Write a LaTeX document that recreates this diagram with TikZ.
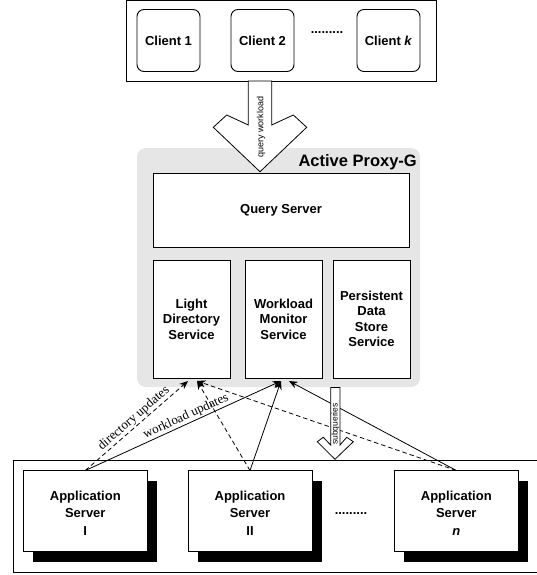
\documentclass[tikz,border=0pt]{standalone}
\usepackage{fontspec}
\setmainfont{Liberation Sans}
\newfontfamily\arialf{Liberation Sans}
\newfontfamily\seriff{Liberation Serif}
\usetikzlibrary{arrows.meta,shadows,calc}
\definecolor{proxygray}{RGB}{230,230,230}
\tikzset{
  sbox/.style={draw, fill=white, inner sep=0pt, outer sep=0pt, line width=0.9pt,
    font=\arialf\bfseries\fontsize{13}{16}\selectfont, align=center},
  clientbox/.style={sbox, rounded corners=7pt, minimum width=63pt, minimum height=62pt},
  appbox/.style={sbox, minimum width=124pt, minimum height=81pt,
    font=\arialf\bfseries\fontsize{13}{17.5}\selectfont,
    drop shadow={shadow xshift=10pt, shadow yshift=-10pt, fill=black, opacity=1}},
  svcbox/.style={sbox, minimum width=77pt, minimum height=118pt,
    font=\arialf\bfseries\fontsize{13}{15.5}\selectfont},
  conn/.style={line width=0.8pt, -{Stealth[length=8.5pt,width=7pt]}},
  dconn/.style={conn, dash pattern=on 4.5pt off 3pt},
  lab/.style={sloped, above, inner sep=1pt, font=\seriff\fontsize{13}{13}\selectfont},
  fatarrow/.style={draw, fill=white, line width=0.8pt},
  dotstxt/.style={anchor=base, inner sep=0pt, font=\arialf\bfseries\fontsize{13}{13}\selectfont}
}
\begin{document}
\begin{tikzpicture}[x=1pt,y=-1pt]
\useasboundingbox (0,0) rectangle (537,575);

% clients area
\node[draw, line width=0.9pt, inner sep=0pt, outer sep=0pt, minimum width=310pt, minimum height=80.5pt] (clients) at (281,40.75) {};
\node[clientbox] (c1) at (168.5,40.5) {Client 1};
\node[clientbox] (c2) at (262.5,40.5) {Client 2};
\node[clientbox] (ck) at (388.5,40.5) {Client \textit{k}};
\node[dotstxt] (cdots) at (327,34) {.........};

% proxy
\node[fill=proxygray, rounded corners=9pt, inner sep=0pt, outer sep=0pt, minimum width=283pt, minimum height=239pt] (proxy) at (278.5,267.5) {};
\node[anchor=base east, inner sep=0pt, font=\arialf\bfseries\fontsize{16.5}{16.5}\selectfont] (ptitle) at (417,166) {Active Proxy-G};
\node[sbox, minimum width=256pt, minimum height=74pt] (qs) at (281,210) {Query Server};
\node[svcbox] (lds) at (191.5,319) {Light\\Directory\\Service};
\node[svcbox] (wms) at (283.5,319) {Workload\\Monitor\\Service};
\node[svcbox] (pds) at (371.5,319) {Persistent\\Data\\Store\\Service};

% query workload arrow
\draw[fatarrow] (248.3,81) -- (248.3,125) -- (226.7,115) -- (213.3,127.3) -- (260,171.7)
  -- (306.7,127.3) -- (293.3,115) -- (271.7,125) -- (271.7,81) -- cycle;
\node[rotate=90, inner sep=0pt, font=\arialf\fontsize{9}{9}\selectfont] (qw) at (261,127) {query workload};

% application servers
\draw[line width=0.9pt] (540,460) -- (13,460) -- (13,572) -- (540,572);
\node[appbox] (app1) at (85.3,511) {\rule{0pt}{13.5pt}Application\\Server\\I};
\node[appbox] (app2) at (250,511) {\rule{0pt}{13.5pt}Application\\Server\\II};
\node[appbox] (appn) at (456.3,511) {\rule{0pt}{13.5pt}Application\\Server\\\textit{n}};
\node[dotstxt] (adots) at (351,514) {.........};

% connectors
\coordinate (ldsA) at ($(lds.south)+(-3.5,3)$);
\coordinate (ldsB) at ($(lds.south)+(5.5,3)$);
\coordinate (wmsA) at ($(wms.south)+(-2.5,3)$);
\coordinate (wmsB) at ($(wms.south)+(5.5,3)$);
\draw[dconn] (app1.north) -- node[lab, pos=0.52] {directory updates} (ldsA);
\draw[conn] (app1.north) -- node[lab, pos=0.53] {workload updates} (wmsA);
\draw[dconn] (app2.north) -- (ldsB);
\draw[conn] (app2.north) -- (wmsA);
\draw[dconn] (appn.north) -- (ldsB);
\draw[conn] (appn.north) -- (wmsB);

% subqueries arrow
\draw[fatarrow] (330.7,387.5) -- (330.7,445) -- (323.3,437.3) -- (317.3,441.7) -- (335,459.3)
  -- (353.3,441.7) -- (346.7,437.3) -- (340,445) -- (340,387.5) -- cycle;
\node[rotate=90, inner sep=0pt, font=\arialf\fontsize{8.5}{8.5}\selectfont] (sq) at (335.5,424) {subqueries};
\end{tikzpicture}
\end{document}
